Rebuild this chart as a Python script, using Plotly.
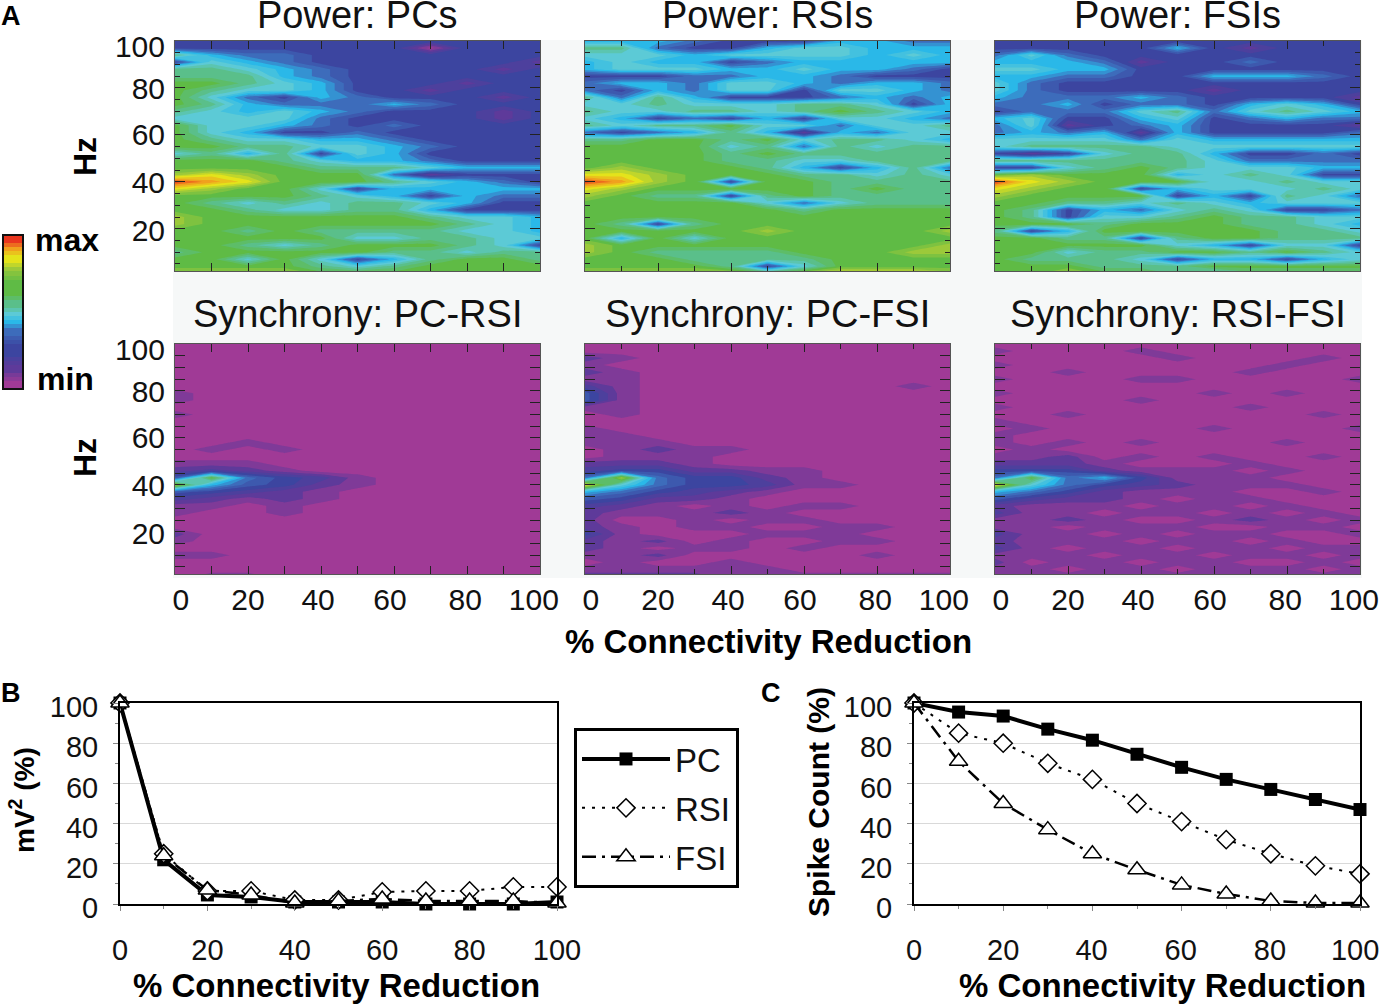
import plotly.graph_objects as go

W, H = 1380, 1004
FONT = "Liberation Sans"

reduction = [0, 10, 20, 30, 40, 50, 60, 70, 80, 90, 100]
freq = [100, 97, 94, 91, 88, 85, 82, 79, 76, 73, 70, 67, 64, 61, 58, 55, 52, 49, 46, 43, 40, 37, 34, 31, 28, 25, 22, 19, 16, 13, 10, 7, 4, 1]

power_pc = [
[2,2,2,2,2,2,2,2,2,2,2],[2,2,2,2,2,2,2,0,2,2,2],[6,4,3,3,2,2,2,2,2,2,2],[2,5,4,3,2,2,2,2,2,2,1],
[6,6,5,4,3,2,2,2,2,1,2],[6,6,6,4,3,2,2,2,2,2,2],[7,7,6,5,4,2,2,2,1,2,2],[7,6,5,5,4,2,2,1,2,2,2],
[7,5,3,2,4,3,2,2,2,1,2],[7,6,4,3,3,3,4,3,2,2,2],[6,5,4,5,4,3,2,2,2,1,2],[5,5,5,5,3,2,2,2,2,1,2],
[7,5,5,4,3,2,3,2,2,2,2],[7,5,4,2,2,3,2,2,2,2,2],[7,6,5,5,4,4,3,2,2,2,2],[7,7,6,6,5,5,4,3,2,2,2],
[5,6,4,6,2,5,4,2,2,2,2],[7,7,7,6,5,4,4,3,2,2,2],[7,7,7,7,6,6,6,5,4,4,4],[8,9,8,7,7,7,3,1,2,2,2],
[11,10,9,7,7,7,6,5,4,3,2],[9,8,7,7,5,2,4,4,4,4,4],[7,7,7,7,6,5,4,2,4,3,3],[7,6,5,6,5,6,6,5,4,2,2],
[7,7,6,5,5,6,6,4,2,2,2],[8,7,7,7,7,7,7,6,5,5,4],[8,7,7,7,7,7,7,7,6,5,4],[7,7,6,7,6,6,6,6,5,5,4],
[7,7,7,7,7,5,5,6,6,5,5],[7,7,6,5,6,7,7,7,6,5,2],[6,7,7,7,7,7,6,6,5,6,6],[7,7,5,7,5,2,4,6,7,7,6],
[7,7,7,7,6,5,6,7,7,7,7],[8,8,8,8,7,7,7,7,7,7,7]]

power_rsi = [
[4,4,4,3,2,2,2,4,4,3,3],[6,6,3,2,2,4,5,5,4,4,4],[5,5,5,4,5,5,5,5,4,5,4],[4,5,4,4,2,3,4,4,4,4,4],
[4,5,5,5,4,4,5,4,4,3,2],[2,2,2,3,3,4,4,3,2,2,2],[3,4,4,3,5,5,4,3,4,4,3],[3,2,4,3,5,5,2,5,5,4,3],
[6,3,6,4,2,2,2,3,4,3,4],[5,5,6,5,5,5,6,6,5,2,4],[6,5,5,6,6,5,6,7,6,5,4],[5,4,2,3,2,4,2,5,5,4,3],
[6,5,6,6,7,5,5,3,5,5,6],[3,2,3,4,6,4,1,4,3,5,5],[6,6,7,7,6,7,5,6,6,5,4],[7,7,7,7,5,6,3,6,5,6,6],
[7,7,7,7,6,7,6,6,6,6,6],[7,7,7,7,6,6,5,5,6,6,6],[7,8,7,7,7,6,4,2,4,6,3],[9,9,8,7,7,7,6,6,5,6,5],
[11,10,8,7,2,7,7,6,6,6,6],[9,8,7,7,7,7,7,6,7,6,6],[8,7,6,6,2,6,7,6,6,6,6],[7,7,7,7,7,5,3,5,6,6,6],
[7,7,7,7,7,7,6,7,7,7,7],[7,7,7,7,7,7,7,7,7,7,7],[7,6,2,6,7,7,7,7,7,7,7],[7,7,7,7,7,8,7,7,7,7,8],
[7,4,7,5,7,7,7,7,7,7,7],[8,7,7,7,7,7,7,7,7,7,8],[8,7,6,6,6,6,7,7,7,8,8],[7,7,7,6,6,6,6,7,7,7,7],
[7,7,7,7,6,2,5,7,7,7,7],[8,8,8,8,8,7,8,9,9,9,8]]

power_fsi = [
[2,2,2,2,2,2,2,2,2,2,2],[2,2,2,2,2,4,2,1,2,2,2],[3,5,3,2,2,2,2,2,2,2,2],[4,4,4,3,1,2,2,3,2,2,2],
[5,5,4,4,2,2,2,2,2,2,2],[4,4,3,3,2,2,4,4,4,3,2],[5,3,2,2,2,2,2,2,2,2,2],[5,3,2,2,2,2,1,2,2,2,2],
[4,3,3,3,4,3,2,2,2,2,1],[3,3,4,2,3,3,2,4,5,4,2],[2,3,3,3,5,6,3,5,6,5,4],[4,5,2,2,4,5,2,3,4,3,3],
[3,5,1,2,3,4,2,2,2,2,1],[3,4,3,4,1,4,2,2,2,2,3],[5,5,5,5,3,5,4,4,4,4,4],[5,6,6,6,6,5,5,5,5,5,5],
[2,1,2,5,6,6,4,2,2,3,2],[6,6,6,6,6,6,5,3,3,3,3],[2,2,5,6,7,6,5,5,5,4,4],[7,8,7,7,7,4,5,6,5,2,2],
[11,9,8,7,7,7,5,5,6,5,5],[9,8,7,7,2,4,5,5,5,6,5],[8,7,7,7,7,2,4,2,6,5,3],[7,7,6,6,5,6,5,4,5,5,5],
[7,6,2,4,3,5,6,5,2,2,3],[7,6,2,5,5,6,7,6,6,5,5],[7,7,7,6,7,7,7,6,6,5,4],[6,2,4,7,7,7,7,7,6,6,5],
[7,7,6,6,2,6,7,7,6,6,6],[7,7,7,7,7,5,4,2,5,5,2],[7,7,5,6,6,7,7,6,7,6,5],[7,6,6,6,5,2,4,4,2,4,5],
[7,7,7,6,6,6,7,7,7,7,7],[7,7,8,7,7,6,5,6,6,6,6]]

sync_pc_rsi = [
[0,0,0,0,0,0,0,0,0,0,0],[0,0,0,0,0,0,0,0,0,0,0],[0,0,0,0,0,0,0,0,0,0,0],[0,0,0,0,0,0,0,0,0,0,0],
[0,0,0,0,0,0,0,0,0,0,0],[0,0,0,0,0,0,0,0,0,0,0],[0,0,0,0,0,0,0,0,0,0,0],[0.5,0,0,0,0,0,0,0,0,0,0],
[0.5,0,0,0,0,0,0,0,0,0,0],[0,0,0,0,0,0,0,0,0,0,0],[0.5,0,0,0,0,0,0,0,0,0,0],[0,0,0,0,0,0,0,0,0,0,0],
[0,0,0,0,0,0,0,0,0,0,0],[0,0,0,0,0,0,0,0,0,0,0],[0,0,0.5,0,0,0,0,0,0,0,0],[0,0.5,0,0.5,0,0,0,0,0,0,0],
[0,0,0,0,0,0,0,0,0,0,0],[0.5,0.5,0.5,0,0,0,0,0,0,0,0],[1,1.5,1,0.5,0,0,0,0,0,0,0],[2.5,7,3,2,1.5,0.5,0,0,0,0,0],
[8,4,2.5,2,1,0.5,0,0,0,0,0],[2.5,2,1.5,1,0.5,0,0,0,0,0,0],[1.5,1,0.5,1,0.5,0,0,0,0,0,0],[0.5,0.5,0,0.5,0,0,0,0,0,0,0],
[0.5,0,0,0.5,0,0,0,0,0,0,0],[0,0,0,0,0,0,0,0,0,0,0],[0,0,0,0,0,0,0,0,0,0,0],[1,0,0,0,0,0,0,0,0,0,0],
[0.5,0,0,0,0,0,0,0,0,0,0],[0,0,0,0,0,0,0,0,0,0,0],[0.5,0.5,0,0,0,0,0,0,0,0,0],[0,0,0,0,0,0,0,0,0,0,0],
[0,0,0,0,0,0,0,0,0,0,0],[0,0.5,0.5,0,0,0,0,0,0,0,0]]

sync_pc_fsi = [
[0,0,0,0,0,0,0,0,0,0,0],[0,0,0,0,0,0,0,0,0,0,0],[1,0.5,0,0,0,0,0,0,0,0,0],[0.5,0,0,0,0,0,0,0,0,0,0],
[1,0.5,0,0,0,0,0,0,0,0,0],[0.5,0.5,0,0,0,0,0,0,0,0,0],[1.5,0.5,0,0,0,0,0,0,0,0.5,0],[2.5,0.5,0,0,0,0,0,0,0,0,0],
[2.5,0.5,0,0,0,0,0,0,0,0,0],[0.5,0.5,0,0,0,0,0,0,0,0,0],[0,0.5,0,0,0,0,0,0,0,0,0],[0,0,0,0,0,0,0,0,0,0,0],
[0.5,0,0,0,0,0,0,0,0,0,0],[0.5,0.5,0,0,0,0,0,0,0,0,0],[0.5,0.5,0.5,0,0,0,0,0,0,0,0],[0,0.5,1,0.5,0.5,0,0,0,0,0,0],
[0,0.5,0.5,0.5,0,0,0,0,0,0,0],[1,1,1,0.5,0,0,0,0,0,0,0],[1.5,2,2,1,1,0.5,0.5,0,0,0,0],[3,8,3,2,2,1,0.5,0,0,0,0],
[9,5,3,2,2,1.5,0.5,0.5,0,0,0],[4,3,2,1.5,1,0.5,0,0,0,0,0],[2.5,2,1,1,0.5,0,0,0,0,0,0],[1.5,1,0.5,0,0.5,0,0.5,0.5,0,0,0],
[1,0.5,0.5,0.5,1,0.5,0,0,0,0,0],[1,0,0,0.5,0,0.5,0.5,0,0,0,0],[1,0.5,0,0.5,0.5,0,0,0.5,0.5,0,0],[2,0.5,0,0,0,0.5,0.5,0.5,0,0,0],
[1,0.5,1,0,0.5,0,0,0.5,0.5,0,0],[1,0.5,0,0.5,0.5,0,0.5,0,0,0,0],[0.5,0.5,1,0,0,0,0,0,0.5,0,0],[0,0.5,0,0,0.5,0,0,0,0,0,0],
[0.5,0.5,0.5,0.5,0.5,0.5,0,0,0,0,0],[1,1,1,1,0.5,0.5,0.5,0.5,0.5,0.5,0.5]]

sync_rsi_fsi = [
[0,0,0,0,0,0,0,0,0,0,0],[0.5,0,0,0,0.5,0,0,0,0,0,0],[0,0,0,0,0,0.5,0,0,0,0.5,0],[0.5,0,0,0,0,0,0,0,0.5,0,0],
[0,0,0.5,0,0,0,0,0.5,0,0,0],[0.5,0,0,0,0.5,0.5,0,0,0,0,0.5],[0,0,0,0,0,0,0,0,0,0,0],[0.5,0,0,0,0,0,0.5,0,0.5,0,0],
[0,0,0,0,0.5,0,0,0,0,0,0],[0.5,0,0,0,0,0,0,0.5,0,0,0],[0,0,0.5,0,0,0,0,0,0,0.5,0],[0.5,0,0,0,0,0,0,0,0,0,0],
[0,0.5,0,0,0,0,0.5,0,0,0,0.5],[0.5,0,0,0,0,0,0,0,0,0,0],[0.5,0,0.5,0,0.5,0,0,0,0.5,0,0],[0,0.5,0,0,0,0,0,0,0,0,0],
[0.5,0.5,1,0,0.5,0,0.5,0,0,0.5,0],[1,1,1,0.5,0,0,0,0.5,0,0,0],[2,2,2,1,0.5,0.5,0.5,0,0.5,0,0],[3,7,3,4,2,0.5,0.5,0.5,0,0,0],
[9,5,3,2,1.5,1,0.5,0.5,0.5,0,0],[4,3,2,1,0.5,0.5,0.5,0,0,0.5,0],[2.5,1.5,1,1,0.5,0,0.5,0.5,0,0,0],[1,0.5,0.5,0.5,0,0.5,0.5,0,0.5,0,0],
[1.5,0.5,0.5,0,0.5,0.5,0,0.5,0,0.5,0],[0.5,0.5,1,0.5,0,0,0.5,1,0.5,0,0.5],[0.5,0.5,0,0.5,0.5,0.5,0,0,0.5,0.5,0],[1.5,0.5,0.5,0,0.5,0,0.5,0.5,0,0,0.5],
[1,0.5,0.5,0.5,0,0.5,0.5,0,0.5,0,0],[1.5,0.5,0,0.5,0.5,0,0.5,0.5,0,0.5,0.5],[0.5,0.5,0.5,0,0.5,0.5,0,0.5,0.5,0,0.5],[1,0,0.5,0.5,0,0.5,0.5,0,0,0.5,0],
[0.5,0.5,0,0.5,0.5,0,0.5,0.5,0.5,0,0.5],[0.5,0.5,0.5,0.5,0.5,0.5,0.5,0.5,0.5,0.5,0.5]]

panel_titles = ["Power: PCs", "Power: RSIs", "Power: FSIs", "Synchrony: PC-RSI", "Synchrony: PC-FSI", "Synchrony: RSI-FSI"]
panel_data = [power_pc, power_rsi, power_fsi, sync_pc_rsi, sync_pc_fsi, sync_rsi_fsi]
x_tick_labels = ["0", "20", "40", "60", "80", "100"]
y_tick_labels = ["20", "40", "60", "80", "100"]
# where the printed labels sit along each axis (they are offset from the tick marks in the figure)
panel_x_label_at = [1.6, 20, 39.2, 58.9, 79.5, 98.3]
panel_y_label_at = [19.3, 39.7, 60, 79.6, 97.6]
spike_x_label_at = [0, 20, 39.8, 59.8, 79.8, 98.9]

colorbar_levels = [0,0,0.3,0.6,1,1,1.3,1.6,2,2,2,2.3,2.6,3,3,3.5,4,4.5,5,5.5,6,6,6.5,7,7,7,7,7.3,7.6,8,8.5,9,9,9.5,10,10.5,11,11]

power_ratio_pc = [100, 22, 4.5, 3.5, 1, 1, 1, 0, 0, 0, 1]
power_ratio_rsi = [100, 25, 6.5, 6.5, 2, 2, 6, 6.5, 6.5, 8.5, 8.5]
power_ratio_fsi = [100, 24, 7, 4.5, 0.5, 1.5, 2.5, 1.5, 1.5, 1.5, 0.5]
spike_pc = [100, 95.5, 93.5, 87, 81.5, 74.5, 68, 62, 57, 52, 47]
spike_rsi = [100, 85, 80, 70, 62, 50, 41, 32, 25, 19, 15]
spike_fsi = [100, 71, 50, 37, 25, 17, 9.5, 5, 1.5, 0.5, 0.5]

palette = ["#A03A96", "#5E3A9A", "#3C45A0", "#3D6CBB", "#2AB8E8", "#5CCAD6", "#5ABF8A", "#5FBB45", "#9CC93A", "#E4E31B", "#F0A11E", "#E9361F"]
colorscale = [[i / 11, c] for i, c in enumerate(palette)]
tick_font = dict(family=FONT, size=30, color="#111")
small_tick_font = dict(family=FONT, size=29, color="#111")


def xd(a, b):
    return [a / W, b / W]


def yd(top, bottom):
    return [1 - bottom / H, 1 - top / H]


fig = go.Figure()
layout = {}
panel_px = [(175, 540), (585, 950), (995, 1360)]
row_px = [(41, 271), (344, 574)]
annotations = []


def label_x_axis(n, anchor, overlay, vals, font, standoff, rng):
    fig.add_trace(go.Scatter(x=[], y=[], xaxis=f"x{n}", yaxis=f"y{anchor}", showlegend=False, hoverinfo="skip"))
    layout[f"xaxis{n}"] = dict(overlaying=f"x{overlay}", anchor=f"y{anchor}", side="bottom", range=rng, tickmode="array",
                               tickvals=vals, ticktext=x_tick_labels, ticks="", showline=False, showgrid=False, zeroline=False,
                               tickfont=font, ticklabelstandoff=standoff, tickangle=0)


def label_y_axis(n, anchor, overlay):
    fig.add_trace(go.Scatter(x=[], y=[], xaxis=f"x{anchor}", yaxis=f"y{n}", showlegend=False, hoverinfo="skip"))
    layout[f"yaxis{n}"] = dict(overlaying=f"y{overlay}", anchor=f"x{anchor}", side="left", range=[2, 100], tickmode="array",
                               tickvals=panel_y_label_at, ticktext=y_tick_labels, ticks="", showline=False, showgrid=False, zeroline=False,
                               tickfont=tick_font, ticklabelstandoff=9)


for i, (title, z) in enumerate(zip(panel_titles, panel_data)):
    col, row = i % 3, i // 3
    n = i + 1
    fig.add_trace(go.Contour(
        x=reduction, y=freq, z=z, xaxis=f"x{n}", yaxis=f"y{n}",
        colorscale=colorscale, zmin=0, zmax=11, showscale=False, hoverinfo="skip",
        contours=dict(start=0.25, end=10.75, size=0.5, coloring="fill"),
        line=dict(width=0, smoothing=0),
    ))
    layout[f"xaxis{n}"] = dict(
        domain=xd(*panel_px[col]), anchor=f"y{n}", range=[0, 100], tickmode="array",
        tickvals=[0, 20, 40, 60, 80, 100], showticklabels=False,
        ticks="inside", ticklen=8, tickwidth=1, tickcolor="#222", mirror="allticks",
        minor=dict(tickvals=reduction, ticks="inside", ticklen=5, tickcolor="#222"),
        showline=True, linecolor="#555", linewidth=1, showgrid=False, zeroline=False,
    )
    layout[f"yaxis{n}"] = dict(
        domain=yd(*row_px[row]), anchor=f"x{n}", range=[2, 100], tickmode="array",
        tickvals=[20, 40, 60, 80, 100], showticklabels=False,
        ticks="inside", ticklen=10, tickwidth=1, tickcolor="#222", mirror="allticks",
        minor=dict(tickvals=[5, 10, 15, 25, 30, 35, 45, 50, 55, 65, 70, 75, 85, 90, 95], ticks="inside", ticklen=5, tickcolor="#222"),
        showline=True, linecolor="#555", linewidth=1, showgrid=False, zeroline=False,
    )
    if row == 1:
        label_x_axis(n + 10, n, n, panel_x_label_at, tick_font, 5, [0, 100])
    if col == 0:
        label_y_axis(n + 10, n, n)
    cx = sum(panel_px[col]) / 2
    ty = [15, 314][row]
    annotations.append(dict(text=title, x=cx / W, y=1 - ty / H, xref="paper", yref="paper", showarrow=False,
                            xanchor="center", yanchor="middle", font=dict(family=FONT, size=38, color="#111")))

# colour key
fig.add_trace(go.Heatmap(z=[[v] for v in colorbar_levels], colorscale=colorscale, zmin=0, zmax=11,
                         showscale=False, xaxis="x7", yaxis="y7", hoverinfo="skip"))
layout["xaxis7"] = dict(domain=xd(3, 23), anchor="y7", visible=False)
layout["yaxis7"] = dict(domain=yd(235, 389), anchor="x7", visible=False)

line_styles = {
    "PC": dict(line=dict(color="black", width=4), marker=dict(symbol="square", size=13, color="black")),
    "RSI": dict(line=dict(color="black", width=2, dash="3px,7px"), marker=dict(symbol="diamond", size=14, color="white", line=dict(color="black", width=1.5))),
    "FSI": dict(line=dict(color="black", width=2.5, dash="14px,6px,3px,6px"), marker=dict(symbol="triangle-up", size=16, color="white", line=dict(color="black", width=1.5))),
}
for n, series, show in [(8, (power_ratio_pc, power_ratio_rsi, power_ratio_fsi), True), (9, (spike_pc, spike_rsi, spike_fsi), False)]:
    for name, values in zip(["PC", "RSI", "FSI"], series):
        fig.add_trace(go.Scatter(x=reduction, y=values, name=name, legendgroup=name, mode="lines+markers", xaxis=f"x{n}", yaxis=f"y{n}",
                                 showlegend=show, cliponaxis=False, **line_styles[name]))

for n, px_x in [(8, (120, 557)), (9, (914, 1360))]:
    layout[f"xaxis{n}"] = dict(
        domain=xd(*px_x), anchor=f"y{n}", range=[0, 100], tickmode="array",
        tickvals=[0, 20, 40, 60, 80, 100], ticktext=x_tick_labels, showticklabels=(n == 8), ticks="outside", ticklen=5, tickcolor="#888",
        minor=dict(tickvals=reduction, ticks="outside", ticklen=3, tickcolor="#888"),
        showline=True, linecolor="black", linewidth=2, mirror=True, showgrid=False, zeroline=False,
        tickfont=small_tick_font, ticklabelstandoff=14, tickangle=0,
    )
    layout[f"yaxis{n}"] = dict(
        domain=yd(703, 904), anchor=f"x{n}", range=[0, 100], tickmode="array",
        tickvals=[0, 20, 40, 60, 80, 100], ticks="outside", ticklen=5, tickcolor="#888",
        minor=dict(tickvals=[10, 30, 50, 70, 90], ticks="outside", ticklen=3, tickcolor="#888"),
        showline=True, linecolor="black", linewidth=2, mirror=True, showgrid=True, gridcolor="#D9D9D9", gridwidth=1, zeroline=False,
        tickfont=small_tick_font, ticklabelstandoff=9, ticklabelshift=4,
    )
label_x_axis(19, 9, 9, spike_x_label_at, small_tick_font, 26, [0, 100])


def note(text, x, y, size, angle=0):
    annotations.append(dict(text=f"<b>{text}</b>", x=x / W, y=1 - y / H, xref="paper", yref="paper",
                            showarrow=False, xanchor="center", yanchor="middle", textangle=angle,
                            font=dict(family=FONT, size=size, color="black")))


note("A", 11, 16, 27)
note("B", 11, 693, 27)
note("C", 771, 693, 27)
note("max", 67, 240, 32)
note("min", 65, 379, 32)
note("Hz", 85, 157, 32, -90)
note("Hz", 85, 458, 32, -90)
note("% Connectivity Reduction", 768, 641, 33)
note("% Connectivity Reduction", 336, 985, 33)
note("% Connectivity Reduction", 1162, 985, 33)
note("mV<sup>2</sup> (%)", 22, 800, 28, -90)
note("Spike Count (%)", 818, 802, 30, -90)

fig.update_layout(
    width=W, height=H, margin=dict(l=0, r=0, t=0, b=0, autoexpand=False), paper_bgcolor="white", plot_bgcolor="rgba(0,0,0,0)",
    font=dict(family=FONT, color="#111"), annotations=annotations,
    shapes=[dict(type="rect", xref="paper", yref="paper", x0=173 / W, x1=1362 / W, y0=1 - 578 / H, y1=1 - 40 / H,
                 fillcolor="#F6F8F8", line_width=0, layer="below"),
            dict(type="rect", xref="paper", yref="paper", x0=3 / W, x1=23 / W, y0=1 - 389 / H, y1=1 - 235 / H,
                 fillcolor="rgba(0,0,0,0)", line=dict(color="#111", width=2), layer="above")],
    legend=dict(x=574 / W, y=1 - 728 / H, xanchor="left", yanchor="top", bgcolor="white", bordercolor="black", borderwidth=3,
                font=dict(family=FONT, size=33, color="#111"), itemwidth=88, tracegroupgap=3, entrywidth=62, entrywidthmode="pixels"),
    **layout,
)
fig.write_html("out.html", config=dict(displayModeBar=False), post_script="document.body.style.margin='0';")
